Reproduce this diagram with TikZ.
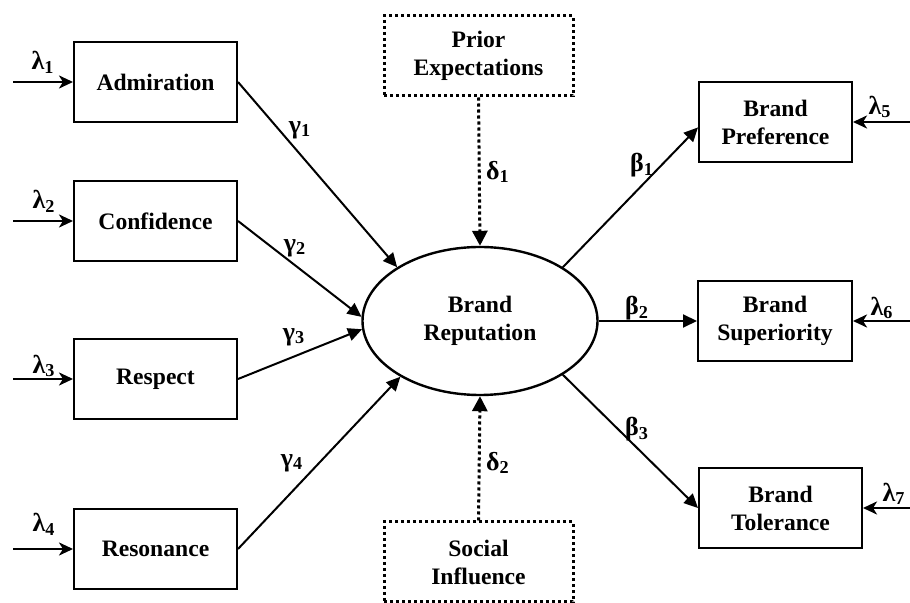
\documentclass[tikz,border=0pt]{standalone}
\usepackage{fontspec}
\setmainfont{Liberation Serif}
\usetikzlibrary{arrows.meta,shapes.geometric}

\begin{document}
\begin{tikzpicture}[x=0.5pt,y=-0.5pt,
	box/.style={draw,line width=1pt,minimum width=81.5pt,minimum height=40pt,align=center,font=\fontsize{11.8}{14}\selectfont\bfseries},
	dotbox/.style={box,line width=1.5pt,dash pattern=on 1.6pt off 1.4pt,minimum width=94.5pt,minimum height=40pt},
	arr/.style={line width=1pt,-{Triangle[length=7pt,width=6.5pt]}},
	lam/.style={line width=1.4pt,-{Stealth[length=7pt,width=6.5pt,inset=2pt]}},
	dotarr/.style={line width=1.5pt,dash pattern=on 1.6pt off 1.4pt,-{Triangle[length=7.5pt,width=7.5pt]}},
	coef/.style={font=\fontsize{13}{15}\selectfont\bfseries,inner sep=0pt}]
		\useasboundingbox (0,0) rectangle (910,603);
		%%  Centre  %%%%%%%%
		\node[ellipse,draw,line width=1.2pt,minimum width=117.5pt,minimum height=74pt,align=center,font=\fontsize{11.8}{14}\selectfont\bfseries] (rep) at (480,321) {Brand\\Reputation};
		\node[dotbox] (prior) at (478.5,56) {Prior\\Expectations};
		\node[dotbox] (social) at (478.5,562) {Social\\Influence};
		\draw[dotarr] (prior.south) -- (rep.north);
		\draw[dotarr] (social.north) -- (rep.south);
		\draw (498,172) node[coef]{δ\textsubscript{1}} (498,463) node[coef]{δ\textsubscript{2}};
		%%  Left side  %%%%%%%%
		\node[box] (adm) at (155.5,82) {Admiration};
		\node[box] (conf) at (155.5,221) {Confidence};
		\node[box] (resp) at (155.5,379) {Respect};
		\node[box] (reso) at (155.5,549) {Resonance};
		\coordinate (in1) at (13,82);
		\coordinate (in2) at (13,221);
		\coordinate (in3) at (13,379);
		\coordinate (in4) at (13,549);
		\draw[lam] (in1) -- (adm.west);
		\draw[lam] (in2) -- (conf.west);
		\draw[lam] (in3) -- (resp.west);
		\draw[lam] (in4) -- (reso.west);
		\draw (43,62) node[coef]{λ\textsubscript{1}} (44,201) node[coef]{λ\textsubscript{2}};
		\draw (44,366) node[coef]{λ\textsubscript{3}} (44,524) node[coef]{λ\textsubscript{4}};
		\draw[arr] (adm.east) -- (rep.147);
		\draw[arr] (conf.east) -- (rep.178);
		\draw[arr] (resp.east) -- (rep.184);
		\draw[arr] (reso.east) -- (rep.215);
		\draw (300,130) node[coef]{γ\textsubscript{1}} (295,248) node[coef]{γ\textsubscript{2}};
		\draw (294,337) node[coef]{γ\textsubscript{3}} (292,463) node[coef]{γ\textsubscript{4}};
		%%  Right side  %%%%%%%%
		\node[box,minimum width=76.5pt] (pref) at (775.5,122) {Brand\\Preference};
		\node[box,minimum width=77pt] (sup) at (775,321) {Brand\\Superiority};
		\node[box] (tol) at (780.5,508) {Brand\\Tolerance};
		\coordinate (in5) at (910,122);
		\coordinate (in6) at (910,321);
		\coordinate (in7) at (910,508);
		\draw[lam] (in5) -- (pref.east);
		\draw[lam] (in6) -- (sup.east);
		\draw[lam] (in7) -- (tol.east);
		\draw (880,107) node[coef]{λ\textsubscript{5}} (882,308) node[coef]{λ\textsubscript{6}} (894,494) node[coef]{λ\textsubscript{7}};
		\draw[arr] (rep.33) -- (pref.184);
		\draw[arr] (rep.east) -- (sup.west);
		\draw[arr] (rep.-33) -- (tol.west);
		\draw (642,165) node[coef]{β\textsubscript{1}} (637,308) node[coef]{β\textsubscript{2}} (637,429) node[coef]{β\textsubscript{3}};
		%%%%%%%%%%%%%%%
\end{tikzpicture}
\end{document}
